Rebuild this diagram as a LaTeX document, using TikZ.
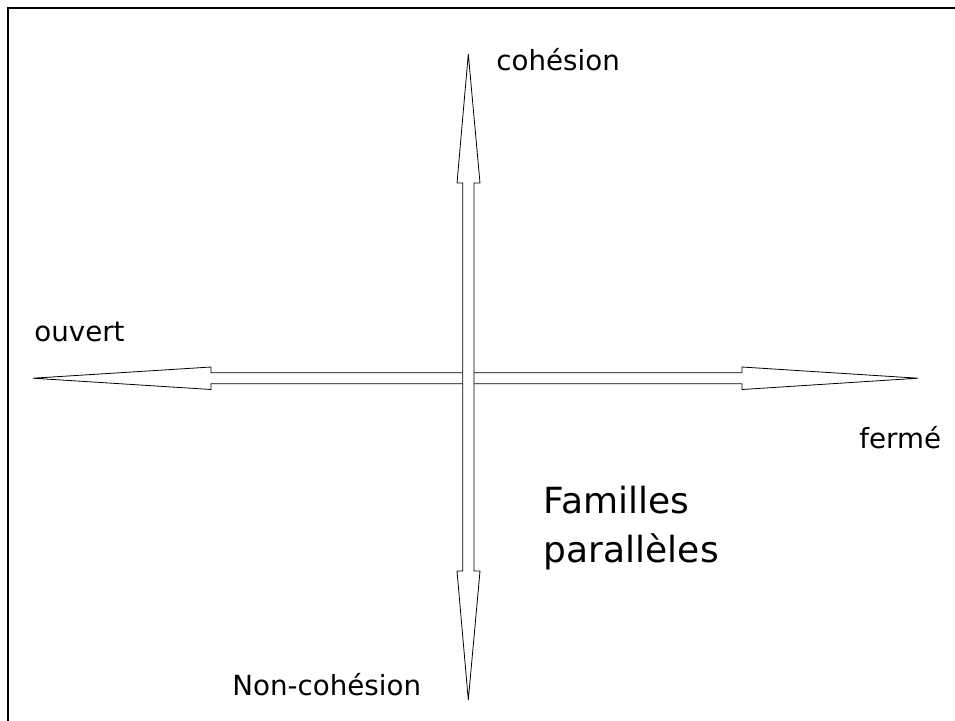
\documentclass[tikz,border=0pt]{standalone}
\usepackage{fontspec}
\setmainfont{DejaVu Sans}
\newlength{\du}
\setlength{\du}{1pt}
\begin{document}
\begin{tikzpicture}
\pgftransformxscale{1.000000}
\pgftransformyscale{-1.000000}
\useasboundingbox (0\du,0\du) rectangle (955\du,720\du);
\definecolor{dialinecolor}{rgb}{0.000000, 0.000000, 0.000000}
\pgfsetstrokecolor{dialinecolor}
\definecolor{dialinecolor}{rgb}{1.000000, 1.000000, 1.000000}
\pgfsetfillcolor{dialinecolor}
% frame
\pgfsetlinewidth{2.000000\du}
\definecolor{dialinecolor}{rgb}{0.000000, 0.000000, 0.000000}
\pgfsetstrokecolor{dialinecolor}
\draw (8.300000\du,725.000000\du)--(8.300000\du,8.300000\du)--(960.000000\du,8.300000\du);
% horizontal axis
\pgfsetlinewidth{0.800000\du}
\pgfsetdash{}{0pt}
\pgfsetmiterjoin
\definecolor{dialinecolor}{rgb}{0.000000, 0.000000, 0.000000}
\pgfsetstrokecolor{dialinecolor}
\draw[fill=white] (33.000000\du,378.200000\du)--(211.000000\du,367.000000\du)--(211.000000\du,372.700000\du)--(742.000000\du,372.700000\du)--(742.000000\du,367.000000\du)--(918.000000\du,378.200000\du)--(742.000000\du,389.500000\du)--(742.000000\du,383.700000\du)--(211.000000\du,383.700000\du)--(211.000000\du,389.500000\du)--cycle;
% vertical axis
\pgfsetlinewidth{0.800000\du}
\pgfsetdash{}{0pt}
\definecolor{dialinecolor}{rgb}{0.000000, 0.000000, 0.000000}
\pgfsetstrokecolor{dialinecolor}
\draw[fill=white] (468.300000\du,54.000000\du)--(480.000000\du,183.000000\du)--(474.000000\du,183.000000\du)--(474.000000\du,571.000000\du)--(480.000000\du,571.000000\du)--(468.300000\du,700.000000\du)--(457.000000\du,571.000000\du)--(462.700000\du,571.000000\du)--(462.700000\du,183.000000\du)--(457.000000\du,183.000000\du)--cycle;
% labels
\definecolor{dialinecolor}{rgb}{0.000000, 0.000000, 0.000000}
\pgfsetstrokecolor{dialinecolor}
\node[anchor=base west,inner sep=0pt,font=\fontsize{27.7}{33}\selectfont] (cohesion) at (496.000000\du,70.500000\du){cohésion};
\node[anchor=base west,inner sep=0pt,font=\fontsize{27.7}{33}\selectfont] (ouvert) at (34.000000\du,341.000000\du){ouvert};
\node[anchor=base west,inner sep=0pt,font=\fontsize{27.7}{33}\selectfont] (ferme) at (859.000000\du,448.300000\du){fermé};
\node[anchor=base west,inner sep=0pt,font=\fontsize{27.7}{33}\selectfont] (noncohesion) at (232.000000\du,695.500000\du){Non-cohésion};
% setfont left to latex
\node[anchor=base west,inner sep=0pt,font=\fontsize{36}{49}\selectfont] (familles) at (543.500000\du,513.000000\du){Familles};
\node[anchor=base west,inner sep=0pt,font=\fontsize{36}{49}\selectfont] (paralleles) at (543.500000\du,562.000000\du){parallèles};
\end{tikzpicture}
\end{document}
